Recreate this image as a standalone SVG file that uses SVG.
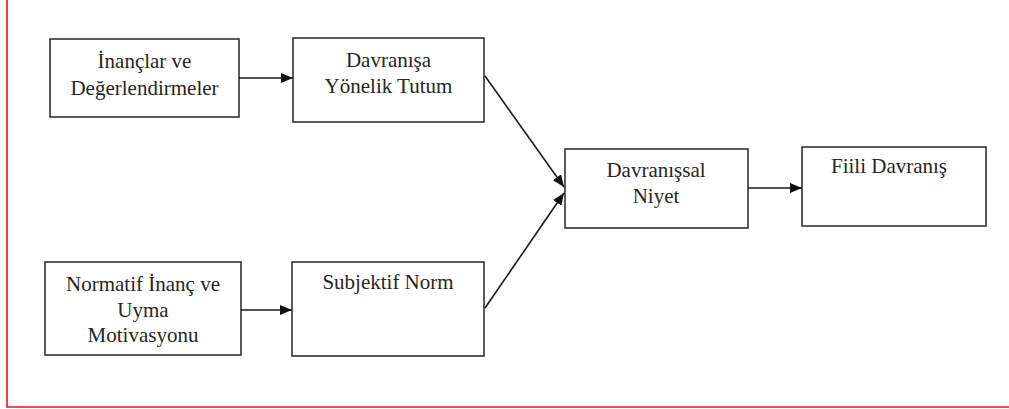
<svg xmlns="http://www.w3.org/2000/svg" width="1009" height="409" viewBox="0 0 1009 409">
<style>
.box{fill:#fff;stroke:#333;stroke-width:1.6}
.t{font-family:'Liberation Serif','DejaVu Serif',serif;font-size:21px;fill:#262626;text-anchor:middle}
.c{stroke:#1a1a1a;stroke-width:1.6;fill:none;marker-end:url(#ah)}
</style>
<defs>
<marker id="ah" viewBox="0 0 12 10" refX="12" refY="5" markerWidth="12" markerHeight="10" markerUnits="userSpaceOnUse" orient="auto">
<path d="M0,0 L12,5 L0,10 Z" fill="#111"/>
</marker>
</defs>
<rect width="1009" height="409" fill="#fff"/>
<path d="M7,0 V407 H1009" fill="none" stroke="#e8141b" stroke-width="1.6"/>
<g id="n1"><rect class="box" x="50" y="39" width="189" height="78"/><text class="t" x="144.5" y="68">İnançlar ve</text><text class="t" x="144.5" y="95">Değerlendirmeler</text></g>
<g id="n2"><rect class="box" x="293" y="38" width="191" height="84"/><text class="t" x="388.5" y="67">Davranışa</text><text class="t" x="388.5" y="93">Yönelik Tutum</text></g>
<g id="n3"><rect class="box" x="45" y="262" width="196" height="93"/><text class="t" x="143" y="291">Normatif İnanç ve</text><text class="t" x="143" y="317">Uyma</text><text class="t" x="143" y="342">Motivasyonu</text></g>
<g id="n4"><rect class="box" x="292" y="262" width="192" height="94"/><text class="t" x="388" y="289">Subjektif Norm</text></g>
<g id="n5"><rect class="box" x="565" y="149" width="183" height="79"/><text class="t" x="656" y="177">Davranışsal</text><text class="t" x="656" y="203">Niyet</text></g>
<g id="n6"><rect class="box" x="802" y="147" width="184" height="79"/><text class="t" x="889" y="173">Fiili Davranış</text></g>
<g id="connectors">
<line class="c" x1="239" y1="78" x2="293" y2="78"/>
<line class="c" x1="241" y1="310" x2="292" y2="310"/>
<line class="c" x1="485" y1="76" x2="564" y2="187"/>
<line class="c" x1="485" y1="308" x2="564" y2="193"/>
<line class="c" x1="748" y1="188" x2="802" y2="188"/>
</g>
</svg>
